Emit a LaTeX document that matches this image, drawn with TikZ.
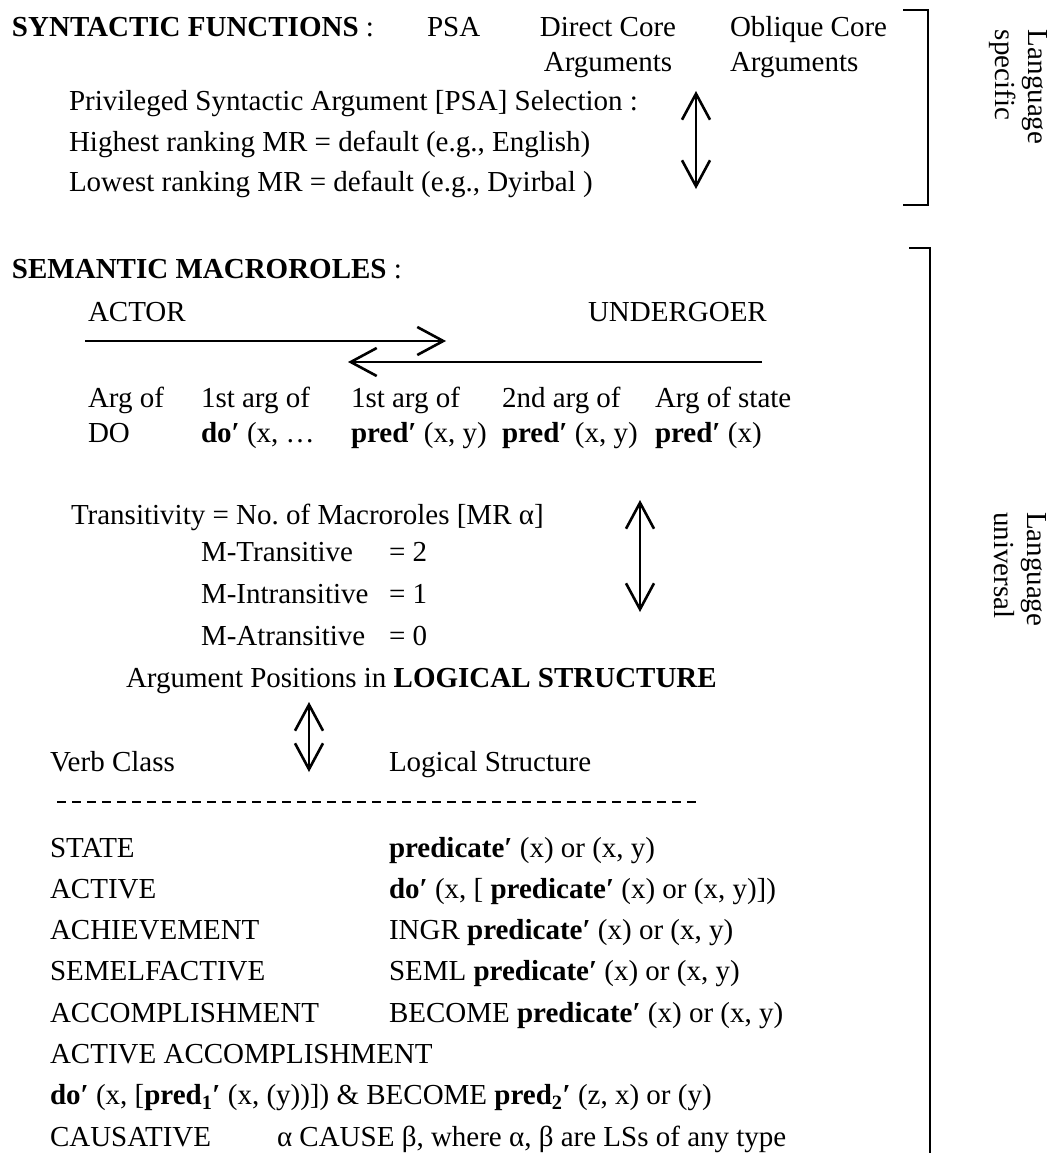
\documentclass[tikz,border=0pt]{standalone}
\usepackage{fontspec}
\setmainfont{Liberation Serif}
\usetikzlibrary{arrows.meta}
\begin{document}
\begin{tikzpicture}[x=1pt,y=-1pt,
  every node/.style={inner sep=0pt, outer sep=0pt, font=\fontsize{29}{34}\selectfont},
  lbl/.style={anchor=base west},
  ctr/.style={anchor=base},
  side/.style={rotate=-90, anchor=west, align=left, font=\fontsize{29}{33}\selectfont},
  rule/.style={line width=2.8pt},
  barb/.tip={Straight Barb[length=26pt,width=28pt]},
  twoway/.style={line width=2.6pt, barb-barb},
  oneway/.style={line width=2.6pt, -barb},
  sep/.style={line width=2.8pt, dash pattern=on 9pt off 6pt},
]
\useasboundingbox (0,0) rectangle (1054,1153);

% ---- syntactic functions (language specific) ----
\node[lbl] (synf) at (12,37) {\textbf{SYNTACTIC FUNCTIONS} :};
\node[lbl] (psa) at (427,37) {PSA};
\node[ctr] (dca1) at (608,37) {Direct Core};
\node[ctr] (dca2) at (608,72) {Arguments};
\node[lbl] (oca1) at (730,37) {Oblique Core};
\node[lbl] (oca2) at (730,72) {Arguments};
\node[lbl] (psasel) at (69,111) {Privileged Syntactic Argument [PSA] Selection :};
\node[lbl] (high) at (69,151) {Highest ranking MR = default (e.g., English)};
\node[lbl] (low) at (69,191) {Lowest ranking MR = default (e.g., Dyirbal )};

\coordinate (selTop) at (696,91);
\coordinate (selBot) at (696,189);
\draw[twoway] (selTop) -- (selBot);

\coordinate (b1a) at (903,10);
\coordinate (b1b) at (928,10);
\coordinate (b1c) at (928,205);
\coordinate (b1d) at (903,205);
\draw[rule] (b1a) -- (b1b) -- (b1c) -- (b1d);
\node[side] (spec) at (1018,30) {Language\\specific};

% ---- semantic macroroles (language universal) ----
\node[lbl] (semm) at (12,278) {\textbf{SEMANTIC MACROROLES} :};
\node[lbl] (actor) at (88,321) {ACTOR};
\node[lbl] (undergoer) at (588,321) {UNDERGOER};

\coordinate (actL) at (85,341);
\coordinate (actR) at (446,341);
\coordinate (undR) at (762,362);
\coordinate (undL) at (348,362);
\draw[oneway] (actL) -- (actR);
\draw[oneway] (undR) -- (undL);

\node[lbl] (c1a) at (88,407) {Arg of};
\node[lbl] (c1b) at (88,442) {DO};
\node[lbl] (c2a) at (201,407) {1st arg of};
\node[lbl] (c2b) at (201,442) {\textbf{do′} (x, …};
\node[lbl] (c3a) at (351,407) {1st arg of};
\node[lbl] (c3b) at (351,442) {\textbf{pred′} (x, y)};
\node[lbl] (c4a) at (502,407) {2nd arg of};
\node[lbl] (c4b) at (502,442) {\textbf{pred′} (x, y)};
\node[lbl] (c5a) at (655,407) {Arg of state};
\node[lbl] (c5b) at (655,442) {\textbf{pred′} (x)};

\node[lbl] (trans) at (71,524) {Transitivity = No.\ of Macroroles [MR α]};
\node[lbl] (mt) at (201,561) {M-Transitive};
\node[lbl] (mtv) at (389,561) {= 2};
\node[lbl] (mi) at (201,603) {M-Intransitive};
\node[lbl] (miv) at (389,603) {= 1};
\node[lbl] (ma) at (201,645) {M-Atransitive};
\node[lbl] (mav) at (389,645) {= 0};

\coordinate (trTop) at (640,500);
\coordinate (trBot) at (640,612);
\draw[twoway] (trTop) -- (trBot);

\node[lbl] (argpos) at (126,687) {Argument Positions in \textbf{LOGICAL STRUCTURE}};

\coordinate (apTop) at (309,702);
\coordinate (apBot) at (309,772);
\draw[twoway] (apTop) -- (apBot);

\node[lbl] (vc) at (50,771) {Verb Class};
\node[lbl] (ls) at (389,771) {Logical Structure};

\coordinate (sepL) at (57,802);
\coordinate (sepR) at (701,802);
\draw[sep] (sepL) -- (sepR);

% ---- verb classes and their logical structures ----
\node[lbl] (v1) at (50,857) {STATE};
\node[lbl] (l1) at (389,857) {\textbf{predicate′} (x) or (x, y)};
\node[lbl] (v2) at (50,898.3) {ACTIVE};
\node[lbl] (l2) at (389,898.3) {\textbf{do′} (x, [ \textbf{predicate′} (x) or (x, y)])};
\node[lbl] (v3) at (50,939.6) {ACHIEVEMENT};
\node[lbl] (l3) at (389,939.6) {INGR \textbf{predicate′} (x) or (x, y)};
\node[lbl] (v4) at (50,980.9) {SEMELFACTIVE};
\node[lbl] (l4) at (389,980.9) {SEML \textbf{predicate′} (x) or (x, y)};
\node[lbl] (v5) at (50,1022.2) {ACCOMPLISHMENT};
\node[lbl] (l5) at (389,1022.2) {BECOME \textbf{predicate′} (x) or (x, y)};
\node[lbl] (v6) at (50,1063.5) {ACTIVE ACCOMPLISHMENT};
\node[lbl] (l6) at (50,1104.8) {\textbf{do′} (x, [\textbf{pred\textsubscript{1}′} (x, (y))]) \& BECOME \textbf{pred\textsubscript{2}′} (z, x) or (y)};
\node[lbl] (v7) at (50,1146.1) {CAUSATIVE};
\node[lbl] (l7) at (277,1146.1) {α CAUSE β, where α, β are LSs of any type};

\coordinate (b2a) at (909,248);
\coordinate (b2b) at (930,248);
\coordinate (b2c) at (930,1153);
\draw[rule] (b2a) -- (b2b) -- (b2c);
\node[side] (univ) at (1020,512) {Language\\universal};
\end{tikzpicture}
\end{document}
